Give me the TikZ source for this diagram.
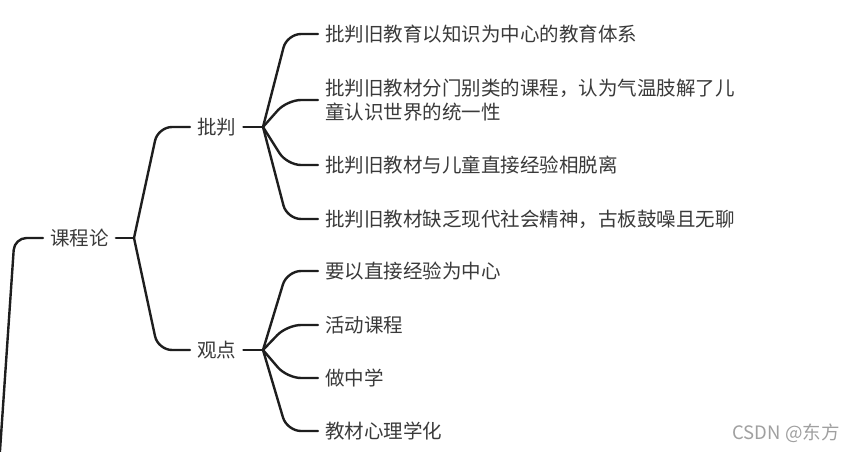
\documentclass[tikz,border=0pt]{standalone}
\usepackage{fontspec}
\setmainfont{Noto Sans CJK SC}
\usetikzlibrary{calc}
\definecolor{txt}{HTML}{3A3A3A}
\definecolor{ln}{HTML}{1E1E1E}
\definecolor{wm}{HTML}{A0A0A0}
\tikzset{
  topic/.style={anchor=west, inner xsep=7pt, inner ysep=0pt, text=txt,
    font=\fontsize{19.5}{24}\selectfont, align=left},
  conn/.style={draw=ln, line width=2.4pt, line cap=round, rounded corners=14pt},
}
\begin{document}
\begin{tikzpicture}[x=1pt, y=-1pt]
\useasboundingbox[fill=white] (0,0) rectangle (857,452);
% nodes
\node[topic] (root) at (43,238) {课程论};
\node[topic] (p1) at (190,127) {批判};
\node[topic] (p2) at (190,350) {观点};
\node[topic] (c1) at (318,34) {批判旧教育以知识为中心的教育体系};
\node[topic] (c2) at (318,100) {批判旧教材分门别类的课程，认为气温肢解了儿\\童认识世界的统一性};
\node[topic] (c3) at (318,165) {批判旧教材与儿童直接经验相脱离};
\node[topic] (c4) at (318,219) {批判旧教材缺乏现代社会精神，古板鼓噪且无聊};
\node[topic] (d1) at (318,271) {要以直接经验为中心};
\node[topic] (d2) at (318,325) {活动课程};
\node[topic] (d3) at (318,378) {做中学};
\node[topic] (d4) at (318,431) {教材心理学化};
\node[anchor=center, text=wm, inner sep=0pt, font=\fontsize{18.5}{20}\selectfont] (wmk) at (786,433) {CSDN @东方};
% junctions
\coordinate (r0) at (-0.5,458);
\coordinate (j0) at (134,238);
\coordinate (j1) at (263,127);
\coordinate (j2) at (263,350);
% connectors
\draw[conn, rounded corners=12pt] (r0) -- (14.5,238) -- (root.west);
\draw[conn] (root.east) -- (j0);
\draw[conn] (j0) -- ($(p1.west)+(-32,0)$) -- (p1.west);
\draw[conn] (j0) -- ($(p2.west)+(-32,0)$) -- (p2.west);
\draw[conn] (p1.east) -- (j1);
\draw[conn] (p2.east) -- (j2);
\foreach \c in {c1,c2,c3,c4}{
  \draw[conn] (j1) -- ($(\c.west)+(-31,0)$) -- (\c.west);
}
\foreach \d in {d1,d2,d3,d4}{
  \draw[conn] (j2) -- ($(\d.west)+(-31,0)$) -- (\d.west);
}
\end{tikzpicture}
\end{document}
